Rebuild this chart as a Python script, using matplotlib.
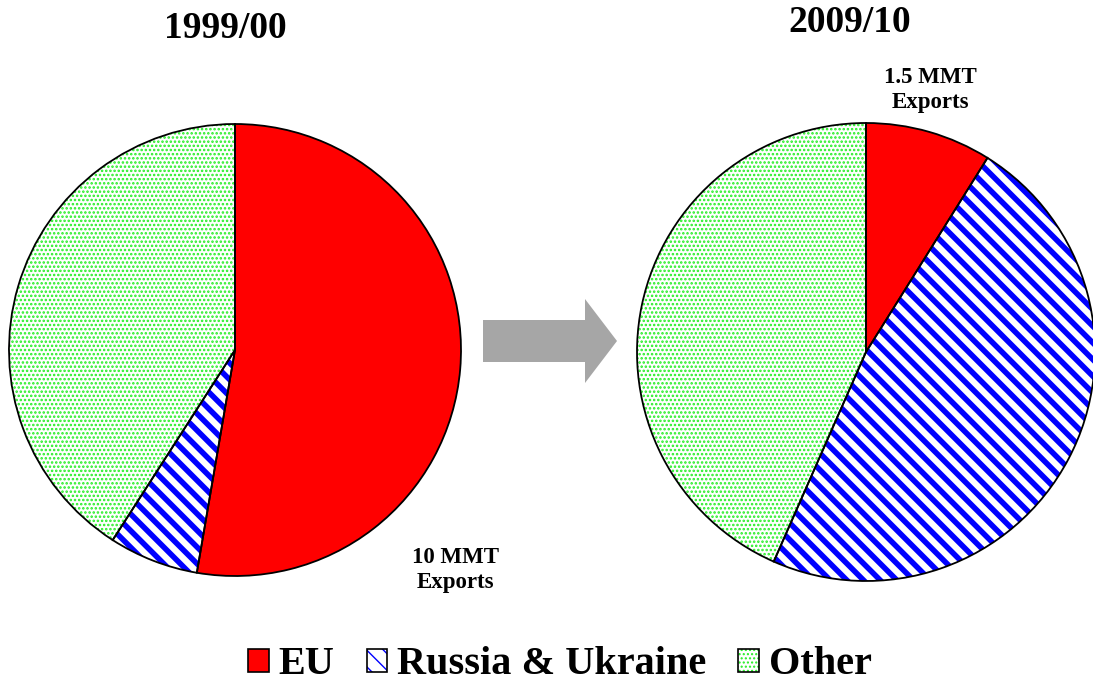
import matplotlib
matplotlib.use("Agg")
import matplotlib.pyplot as plt
import matplotlib.patches as mpatches
from matplotlib.legend_handler import HandlerTuple

# shares of exports (percent)
regions = ['EU', 'Russia & Ukraine', 'Other']
share_1999 = [52.7, 6.4, 40.9]
share_2009 = [8.9, 47.7, 43.4]
titles = ['1999/00', '2009/10']
notes = ['10 MMT\nExports', '1.5 MMT\nExports']

face_cols = ['#ff0000', 'white', 'white']
hatch_cols = ['#ff0000', '#0000ff', '#22ee22']
hatches = [None, '\\\\', '....']
hatch_lw = [1.0, 4.0, 1.2]

plt.rcParams['font.family'] = ['Liberation Serif', 'DejaVu Serif']
plt.rcParams['font.weight'] = 'bold'

W, H = 1093, 684
fig = plt.figure(figsize=(W / 100, H / 100), dpi=100)
ax = fig.add_axes([0, 0, 1, 1])


def style_fill(p, fc, hc, h, lw):
    p.set_facecolor(fc)
    p.set_edgecolor(hc)
    p.set_linewidth(0)
    if h:
        p.set_hatch(h)
        if hasattr(p, 'set_hatch_linewidth'):
            p.set_hatch_linewidth(lw)


def draw_pie(vals, center, r):
    # fill + hatch first, outline on top
    wedges, _ = ax.pie(vals, colors=face_cols, startangle=90, counterclock=False,
                       center=center, radius=r, frame=True,
                       wedgeprops=dict(linewidth=0))
    for w, fc, hc, h, lw in zip(wedges, face_cols, hatch_cols, hatches, hatch_lw):
        style_fill(w, fc, hc, h, lw)
    ax.pie(vals, colors=['none'] * 3, startangle=90, counterclock=False,
           center=center, radius=r, frame=True,
           wedgeprops=dict(linewidth=1.3, edgecolor='black', fill=False))


draw_pie(share_1999, (235, H - 350), 226)
draw_pie(share_2009, (866, H - 352), 229)

ax.set_xlim(0, W)
ax.set_ylim(0, H)
ax.set_aspect('equal')
ax.axis('off')

ax.text(225, H - 28, titles[0], ha='center', va='center', fontsize=27, fontweight='bold')
ax.text(850, H - 23, titles[1], ha='center', va='center', fontsize=27, fontweight='bold')
ax.text(455, H - 570, notes[0], ha='center', va='center', fontsize=16.5,
        fontweight='bold', linespacing=1.2)
ax.text(930, H - 90, notes[1], ha='center', va='center', fontsize=16.5,
        fontweight='bold', linespacing=1.2)

arrow = mpatches.FancyArrow(483, H - 341, 134, 0, width=42, head_width=84,
                            head_length=32, length_includes_head=True,
                            color='#a6a6a6', linewidth=0)
ax.add_patch(arrow)

handles = []
for fc, hc, h, lw in zip(face_cols, hatch_cols, hatches, hatch_lw):
    fill = mpatches.Rectangle((0, 0), 1, 1)
    style_fill(fill, fc, hc, h, lw)
    edge = mpatches.Rectangle((0, 0), 1, 1, fill=False, edgecolor='black', linewidth=1.2)
    handles.append((fill, edge))
fig.legend(handles, regions, loc='center', bbox_to_anchor=(560 / W, 1 - 665 / H),
           ncol=3, frameon=False, fontsize=29, handlelength=0.5, handleheight=0.5,
           handletextpad=0.25, columnspacing=0.8,
           handler_map={tuple: HandlerTuple(ndivide=1)})

fig.savefig('out.png', dpi=100)
